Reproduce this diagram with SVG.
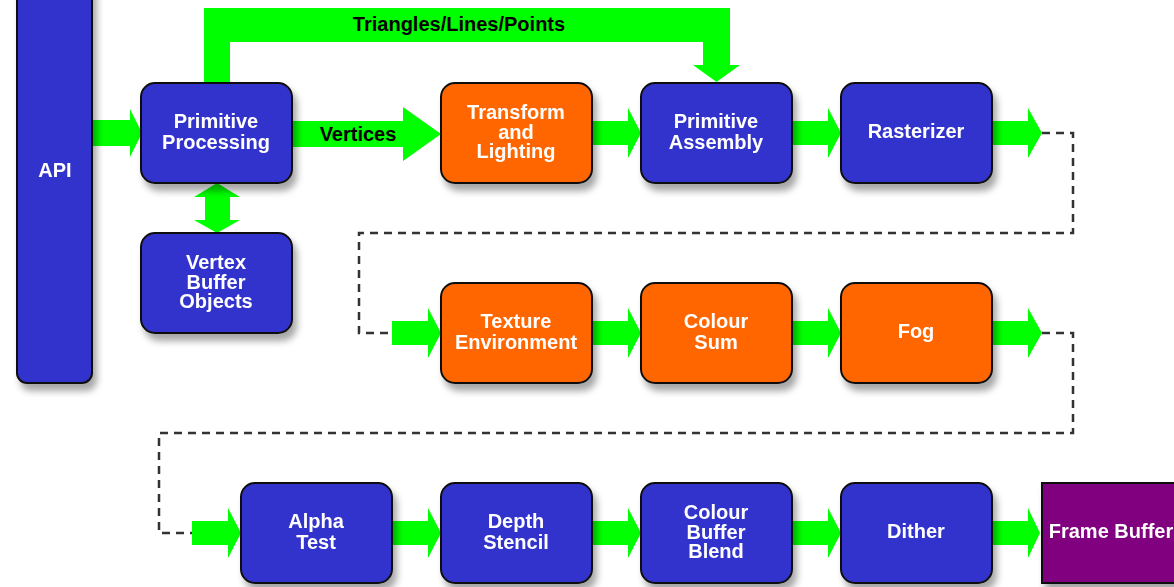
<svg xmlns="http://www.w3.org/2000/svg" width="1174" height="587" viewBox="0 0 1174 587">
  <defs>
    <filter id="shadow" x="-20%" y="-20%" width="150%" height="160%">
      <feDropShadow dx="4" dy="7" stdDeviation="3.5" flood-color="#000" flood-opacity="0.35"/>
    </filter>
    <style>
      .blue { fill: #3333cc; stroke: #111; stroke-width: 2; }
      .orange { fill: #ff6600; stroke: #111; stroke-width: 2; }
      .purple { fill: #800080; stroke: #111; stroke-width: 2; }
      .box { filter: url(#shadow); }
      .lbl { font-family: "Liberation Sans", Arial, sans-serif; font-weight: bold; font-size: 20px; fill: #ffffff; text-anchor: middle; }
      .dark { font-family: "Liberation Sans", Arial, sans-serif; font-weight: bold; font-size: 20px; fill: #000000; }
      .flow { fill: #00ff00; }
      .dash { fill: none; stroke: #333333; stroke-width: 2.5; stroke-dasharray: 8 6; }
    </style>
  </defs>

  <rect width="1174" height="587" fill="#ffffff"/>

  <!-- connectors -->
  <g id="connectors">
    <!-- dashed row wraps -->
    <path class="dash" d="M1042,133 H1073 V233 H359 V333 H393"/>
    <path class="dash" d="M1042,333 H1073 V433 H159 V533 H192"/>

    <!-- Triangles/Lines/Points bypass -->
    <path class="flow" d="M204,183 V8 H730 V65 H740 L716.5,82 L693,65 H703 V42 H230 V183 Z"/>
    <text class="dark" x="459" y="31" text-anchor="middle">Triangles/Lines/Points</text>

    <!-- Primitive Processing <-> Vertex Buffer Objects -->
    <path class="flow" d="M217,183 L240,197 H230 V220 H240 L217,233 L194,220 H205 V197 H194 Z"/>

    <!-- API -> Primitive Processing -->
    <path class="flow" d="M92,120 H130 V109 L142,133 L130,157 V146 H92 Z"/>

    <!-- Vertices -->
    <path class="flow" d="M292,121 H403 V107 L441,134 L403,161 V147 H292 Z"/>
    <text class="dark" x="358" y="141" text-anchor="middle">Vertices</text>

    <!-- row 1 -->
    <path class="flow" d="M592,121 H628 V108 L641,133 L628,158 V145 H592 Z"/>
    <path class="flow" d="M792,121 H828 V108 L841,133 L828,158 V145 H792 Z"/>
    <path class="flow" d="M992,121 H1028 V108 L1042,133 L1028,158 V145 H992 Z"/>

    <!-- row 2 -->
    <path class="flow" d="M392,321 H428 V308 L441,333 L428,358 V345 H392 Z"/>
    <path class="flow" d="M592,321 H628 V308 L641,333 L628,358 V345 H592 Z"/>
    <path class="flow" d="M792,321 H828 V308 L841,333 L828,358 V345 H792 Z"/>
    <path class="flow" d="M992,321 H1028 V308 L1042,333 L1028,358 V345 H992 Z"/>

    <!-- row 3 -->
    <path class="flow" d="M192,521 H228 V508 L241,533 L228,558 V545 H192 Z"/>
    <path class="flow" d="M392,521 H428 V508 L441,533 L428,558 V545 H392 Z"/>
    <path class="flow" d="M592,521 H628 V508 L641,533 L628,558 V545 H592 Z"/>
    <path class="flow" d="M792,521 H828 V508 L841,533 L828,558 V545 H792 Z"/>
    <path class="flow" d="M992,521 H1028 V508 L1040,533 L1028,558 V545 H992 Z"/>
  </g>

  <!-- nodes -->
  <g id="api" class="box">
    <rect class="blue" x="17" y="-20" width="75" height="403" rx="10"/>
    <text class="lbl" x="55" y="177">API</text>
  </g>

  <g id="primitive-processing" class="box">
    <rect class="blue" x="141" y="83" width="151" height="100" rx="14"/>
    <text class="lbl" x="216" y="128">Primitive</text>
    <text class="lbl" x="216" y="149">Processing</text>
  </g>

  <g id="vertex-buffer-objects" class="box">
    <rect class="blue" x="141" y="233" width="151" height="100" rx="14"/>
    <text class="lbl" x="216" y="269">Vertex</text>
    <text class="lbl" x="216" y="289">Buffer</text>
    <text class="lbl" x="216" y="308">Objects</text>
  </g>

  <g id="transform-lighting" class="box">
    <rect class="orange" x="441" y="83" width="151" height="100" rx="14"/>
    <text class="lbl" x="516" y="119">Transform</text>
    <text class="lbl" x="516" y="139">and</text>
    <text class="lbl" x="516" y="158">Lighting</text>
  </g>

  <g id="primitive-assembly" class="box">
    <rect class="blue" x="641" y="83" width="151" height="100" rx="14"/>
    <text class="lbl" x="716" y="128">Primitive</text>
    <text class="lbl" x="716" y="149">Assembly</text>
  </g>

  <g id="rasterizer" class="box">
    <rect class="blue" x="841" y="83" width="151" height="100" rx="14"/>
    <text class="lbl" x="916" y="138">Rasterizer</text>
  </g>

  <g id="texture-environment" class="box">
    <rect class="orange" x="441" y="283" width="151" height="100" rx="14"/>
    <text class="lbl" x="516" y="328">Texture</text>
    <text class="lbl" x="516" y="349">Environment</text>
  </g>

  <g id="colour-sum" class="box">
    <rect class="orange" x="641" y="283" width="151" height="100" rx="14"/>
    <text class="lbl" x="716" y="328">Colour</text>
    <text class="lbl" x="716" y="349">Sum</text>
  </g>

  <g id="fog" class="box">
    <rect class="orange" x="841" y="283" width="151" height="100" rx="14"/>
    <text class="lbl" x="916" y="338">Fog</text>
  </g>

  <g id="alpha-test" class="box">
    <rect class="blue" x="241" y="483" width="151" height="100" rx="14"/>
    <text class="lbl" x="316" y="528">Alpha</text>
    <text class="lbl" x="316" y="549">Test</text>
  </g>

  <g id="depth-stencil" class="box">
    <rect class="blue" x="441" y="483" width="151" height="100" rx="14"/>
    <text class="lbl" x="516" y="528">Depth</text>
    <text class="lbl" x="516" y="549">Stencil</text>
  </g>

  <g id="colour-buffer-blend" class="box">
    <rect class="blue" x="641" y="483" width="151" height="100" rx="14"/>
    <text class="lbl" x="716" y="519">Colour</text>
    <text class="lbl" x="716" y="539">Buffer</text>
    <text class="lbl" x="716" y="558">Blend</text>
  </g>

  <g id="dither" class="box">
    <rect class="blue" x="841" y="483" width="151" height="100" rx="14"/>
    <text class="lbl" x="916" y="538">Dither</text>
  </g>

  <g id="frame-buffer" class="box">
    <rect class="purple" x="1042" y="483" width="140" height="100"/>
    <text class="lbl" x="1111" y="538">Frame Buffer</text>
  </g>
</svg>
